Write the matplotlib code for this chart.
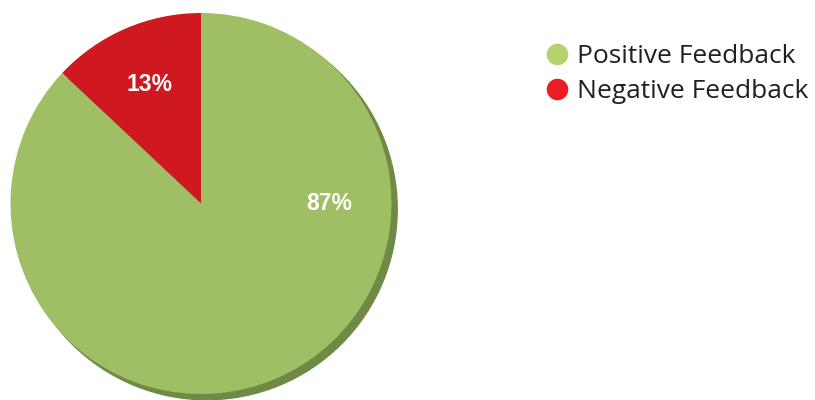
import numpy as np
import matplotlib.pyplot as plt
from matplotlib.lines import Line2D
from matplotlib.patches import Circle

labels = ['Negative Feedback', 'Positive Feedback']
values = [13, 87]
pie_colors = ['#cf1820', '#a0be64']
legend_colors = {'Positive Feedback': '#b3d36b', 'Negative Feedback': '#ec1c24'}
shadow_color = '#6e8a45'

fig = plt.figure(figsize=(8.15, 4), dpi=100)
ax = fig.add_axes([10 / 815, 6 / 400, 382 / 815, 381 / 400])

# drop shadow behind the pie
ax.add_patch(Circle((0.03, -0.03), 1.0, color=shadow_color, zorder=0, clip_on=False))

wedges, texts, autotexts = ax.pie(
  values, colors=pie_colors, startangle=90, counterclock=True,
  autopct='%d%%', pctdistance=0.68, radius=1.0,
  wedgeprops=dict(linewidth=0),
  textprops=dict(color='white', fontsize=16.5, fontweight='bold', family='Liberation Sans'))
autotexts[1].set_position((0.675, 0.0))
for w in wedges:
  w.set_zorder(1)
  w.set_clip_on(False)

ax.set_xlim(-1, 1)
ax.set_ylim(-1, 1)
ax.set_aspect('equal')
ax.axis('off')

handles = [Line2D([], [], marker='o', linestyle='none', markersize=15.5,
                  markerfacecolor=legend_colors[n], markeredgewidth=0, label=n)
           for n in ['Positive Feedback', 'Negative Feedback']]
fig.legend(handles=handles, loc='upper left', bbox_to_anchor=(520 / 815, 1 - 20 / 400),
           frameon=False, handletextpad=0.25, labelspacing=0.4, handlelength=1.0,
           prop=dict(family='Open Sans', size=19), labelcolor='#231f20')

fig.savefig('out.png', dpi=100)
